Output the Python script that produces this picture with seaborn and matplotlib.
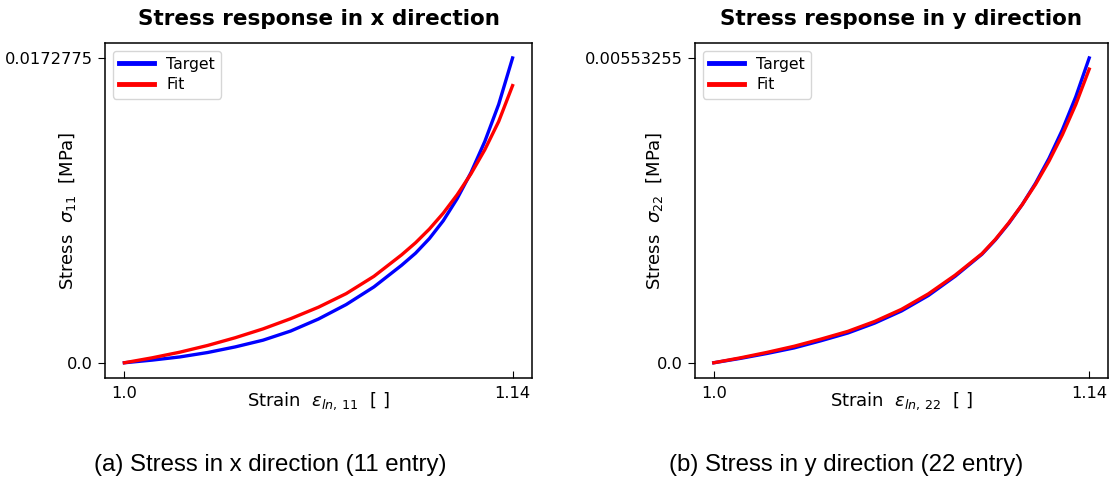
import numpy as np
import pandas as pd
import matplotlib
matplotlib.use("Agg")
import matplotlib.pyplot as plt
import seaborn as sns

# ---- data ----
strain = [1.00, 1.01, 1.02, 1.03, 1.04, 1.05, 1.06, 1.07, 1.08, 1.09, 1.10,
          1.105, 1.11, 1.115, 1.12, 1.125, 1.13, 1.135, 1.14]

x_target = [0.0, 0.00015, 0.00033, 0.00058, 0.00090, 0.00128, 0.00180, 0.00248,
            0.00330, 0.00430, 0.00553, 0.00621, 0.00704, 0.00805, 0.00930,
            0.01078, 0.01255, 0.01465, 0.0172775]
x_fit = [0.0, 0.00028, 0.00060, 0.00098, 0.00142, 0.00192, 0.00250, 0.00315,
         0.00392, 0.00490, 0.00612, 0.00680, 0.00758, 0.00848, 0.00952,
         0.01071, 0.01208, 0.01368, 0.01571]

y_target = [0.0, 0.00008, 0.00017, 0.00027, 0.00040, 0.00054, 0.00072, 0.00094,
            0.00122, 0.00157, 0.00197, 0.00223, 0.00253, 0.00287, 0.00326,
            0.00371, 0.00423, 0.00483, 0.00553255]
y_fit = [0.0, 0.00009, 0.00019, 0.00030, 0.00043, 0.00057, 0.00075, 0.00097,
         0.00125, 0.00159, 0.00198, 0.00224, 0.00254, 0.00287, 0.00324,
         0.00366, 0.00414, 0.00469, 0.00533]

series_labels = ["Target", "Fit"]
xtick_labels = ["1.0", "1.14"]
ytick_labels_x = ["0.0", "0.0172775"]
ytick_labels_y = ["0.0", "0.00553255"]

titles = ["Stress response in x direction", "Stress response in y direction"]
xlabels = [r"Strain  $\varepsilon_{ln,\,11}$  [ ]", r"Strain  $\varepsilon_{ln,\,22}$  [ ]"]
ylabels = [r"Stress  $\sigma_{11}$  [MPa]", r"Stress  $\sigma_{22}$  [MPa]"]
captions = ["(a) Stress in x direction (11 entry)", "(b) Stress in y direction (22 entry)"]

plt.rcParams["font.family"] = ["DejaVu Sans"]

fig = plt.figure(figsize=(11.12, 4.8), dpi=100)
ax1 = fig.add_axes([0.0944, 0.2125, 0.3840, 0.6985])
ax2 = fig.add_axes([0.6250, 0.2125, 0.3714, 0.6985])

panels = [
    (ax1, x_target, x_fit, ytick_labels_x, -0.063),
    (ax2, y_target, y_fit, ytick_labels_y, -0.073),
]

for i, (ax, tgt, fit, ylabs, ylx) in enumerate(panels):
    df = pd.DataFrame({
        "strain": strain * 2,
        "stress": tgt + fit,
        "series": [series_labels[0]] * len(strain) + [series_labels[1]] * len(strain),
    })
    sns.lineplot(data=df, x="strain", y="stress", hue="series",
                 palette={"Target": "blue", "Fit": "red"}, linewidth=2.4,
                 ax=ax, legend=True)
    ax.set_xticks([strain[0], strain[-1]])
    ax.set_xticklabels(xtick_labels)
    ax.set_yticks([0.0, tgt[-1]])
    ax.set_yticklabels(ylabs)
    ax.tick_params(axis="x", direction="in", labelsize=11.7, length=5, pad=6)
    ax.tick_params(axis="y", direction="out", labelsize=11.7, length=5)
    ax.set_xlabel(xlabels[i], fontsize=13, labelpad=-8)
    ax.set_ylabel(ylabels[i], fontsize=13)
    ax.yaxis.set_label_coords(ylx, 0.5)
    ax.set_title(titles[i], fontsize=15.5, fontweight="bold", pad=13)
    for s in ax.spines.values():
        s.set_linewidth(1.1)
        s.set_color("black")
    leg = ax.legend(loc="upper left", fontsize=11.3, handlelength=2.2,
                    borderpad=0.4, labelspacing=0.35)
    for h in leg.get_lines():
        h.set_linewidth(3.5)

fig.text(0.243, 0.032, captions[0], ha="center", va="center",
         fontsize=17.3, family="Liberation Sans")
fig.text(0.761, 0.032, captions[1], ha="center", va="center",
         fontsize=17.3, family="Liberation Sans")

fig.savefig("out.png", dpi=100)
